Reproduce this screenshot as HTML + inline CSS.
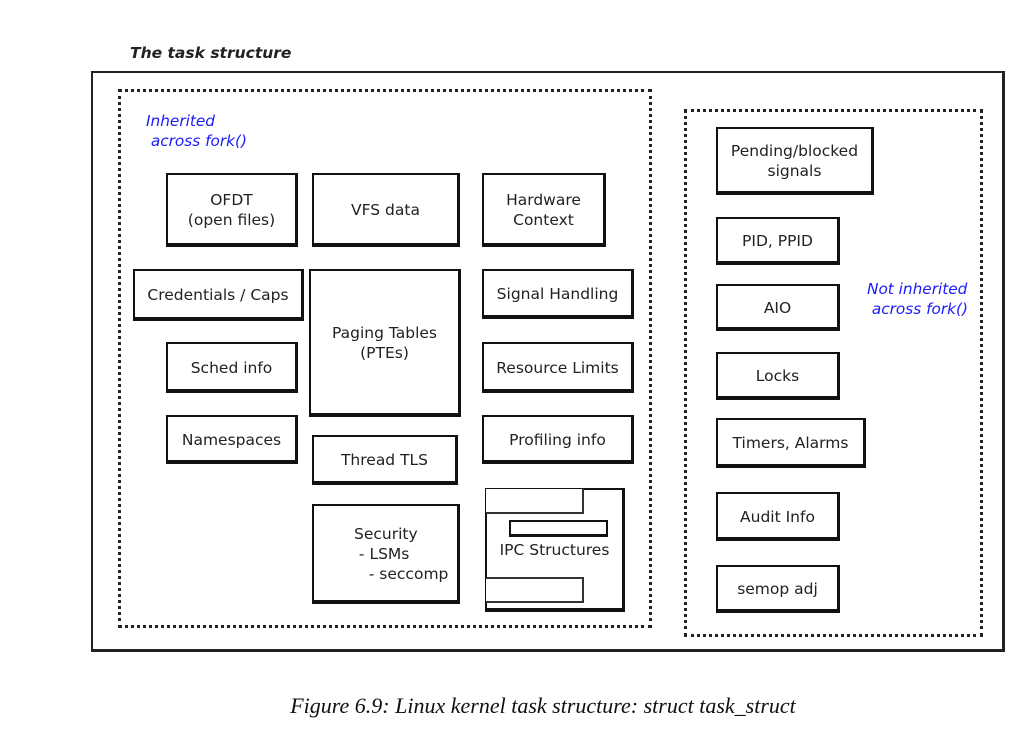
<!DOCTYPE html>
<html><head><meta charset="utf-8"><style>
body{margin:0;width:1032px;height:733px;background:#fff;position:relative;overflow:hidden;font-family:"DejaVu Sans","Liberation Sans",sans-serif;color:#222}
.a{position:absolute;box-sizing:border-box}
.b{position:absolute;box-sizing:border-box;border:2px solid #111;border-right-width:3px;border-bottom-width:4px;display:flex;align-items:center;justify-content:center;text-align:center;font-size:15.5px;line-height:20px;background:#fff;padding-top:2px}
.d{position:absolute;box-sizing:border-box;border:3px dotted #222}
.blue{position:absolute;color:#1a1aff;font-style:italic;font-size:15.3px;line-height:20px}
</style></head><body>
<div class="a" style="left:130px;top:44px;font-weight:bold;font-style:italic;font-size:15.5px">The task structure</div>
<div class="a" style="left:91px;top:71px;width:914px;height:581px;border:2px solid #222;border-right-width:3px;border-bottom-width:3px"></div>
<div class="d" style="left:118px;top:89px;width:534px;height:539px"></div>
<div class="d" style="left:684px;top:109px;width:299px;height:528px"></div>
<div class="blue" style="left:146px;top:111px">Inherited<br>&nbsp;across fork()</div>
<div class="blue" style="left:867px;top:279px">Not inherited<br>&nbsp;across fork()</div>

<div class="b" style="left:166px;top:173px;width:132px;height:74px">OFDT<br>(open files)</div>
<div class="b" style="left:312px;top:173px;width:148px;height:74px">VFS data</div>
<div class="b" style="left:482px;top:173px;width:124px;height:74px">Hardware<br>Context</div>
<div class="b" style="left:133px;top:269px;width:171px;height:52px">Credentials / Caps</div>
<div class="b" style="left:309px;top:269px;width:152px;height:148px">Paging Tables<br>(PTEs)</div>
<div class="b" style="left:482px;top:269px;width:152px;height:50px">Signal Handling</div>
<div class="b" style="left:166px;top:342px;width:132px;height:51px">Sched info</div>
<div class="b" style="left:482px;top:342px;width:152px;height:51px">Resource Limits</div>
<div class="b" style="left:166px;top:415px;width:132px;height:49px">Namespaces</div>
<div class="b" style="left:312px;top:435px;width:146px;height:50px">Thread TLS</div>
<div class="b" style="left:482px;top:415px;width:152px;height:49px">Profiling info</div>
<div class="b" style="left:312px;top:504px;width:148px;height:100px;text-align:left;justify-content:flex-start;padding-left:40px">Security<br>&nbsp;- LSMs<br>&nbsp;&nbsp;&nbsp;- seccomp</div>
<div class="b" style="left:485px;top:488px;width:140px;height:124px">IPC Structures</div>
<div class="a" style="left:486px;top:489px;width:98px;height:25px;border:2px solid #333;border-top:none;border-left:none;background:#fff"></div>
<div class="a" style="left:509px;top:520px;width:99px;height:17px;border:2px solid #111;border-bottom-width:3px"></div>
<div class="a" style="left:486px;top:577px;width:98px;height:26px;border:2px solid #333;border-left:none;background:#fff"></div>

<div class="b" style="left:716px;top:127px;width:158px;height:68px">Pending/blocked<br>signals</div>
<div class="b" style="left:716px;top:217px;width:124px;height:48px">PID, PPID</div>
<div class="b" style="left:716px;top:284px;width:124px;height:47px">AIO</div>
<div class="b" style="left:716px;top:352px;width:124px;height:48px">Locks</div>
<div class="b" style="left:716px;top:418px;width:150px;height:50px">Timers, Alarms</div>
<div class="b" style="left:716px;top:492px;width:124px;height:49px">Audit Info</div>
<div class="b" style="left:716px;top:565px;width:124px;height:48px">semop adj</div>

<div class="a" style="left:0;width:1086px;top:693px;text-align:center;font-family:'Liberation Serif',serif;font-style:italic;font-size:22px;color:#111">Figure 6.9: Linux kernel task structure: struct task_struct</div>
</body></html>
